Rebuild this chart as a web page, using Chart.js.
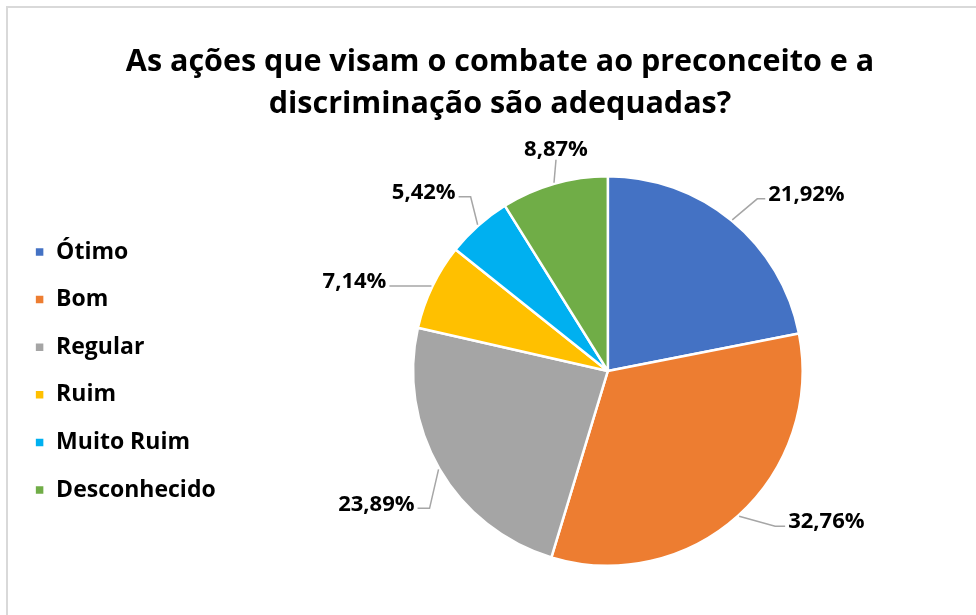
<!DOCTYPE html>
<html lang="pt-BR">
<head>
<meta charset="utf-8">
<title>Combate ao preconceito e à discriminação</title>
<script src="https://cdn.jsdelivr.net/npm/chart.js@4.4.1/dist/chart.umd.min.js"></script>
<style>
  html, body { margin: 0; padding: 0; background: #fff; overflow: hidden; }
  .frame {
    position: absolute;
    left: 6px;
    top: 6px;
    width: 990px;
    height: 620px;
    border-top: 2px solid #d9d9d9;
    border-left: 2px solid #d9d9d9;
  }
  canvas { display: block; }
</style>
</head>
<body>
<div class="frame">
  <canvas id="pie" width="988" height="607"></canvas>
</div>
<script>
const titleLines = ["As ações que visam o combate ao preconceito e a", "discriminação são adequadas?"];
const categories = ["Ótimo", "Bom", "Regular", "Ruim", "Muito Ruim", "Desconhecido"];
const percentages = [21.92, 32.76, 23.89, 7.14, 5.42, 8.87];
const sliceColors = ["#4472C4", "#ED7D31", "#A5A5A5", "#FFC000", "#00B0F0", "#70AD47"];

const FONT = '"Open Sans", "DejaVu Sans", sans-serif';

// percentage labels outside the pie; each leader runs from the slice edge
// to a bend (offset from the edge point) and then a short horizontal tail
const outsideLabels = {
  id: "outsideLabels",
  afterDatasetsDraw(chart, args, opts) {
    const ctx = chart.ctx;
    const meta = chart.getDatasetMeta(0);
    const values = chart.data.datasets[0].data;
    ctx.save();
    ctx.font = opts.font;
    ctx.fillStyle = opts.color;
    ctx.strokeStyle = opts.lineColor;
    ctx.lineWidth = 1.5;
    meta.data.forEach((arc, i) => {
      const p = arc.getProps(["x", "y", "startAngle", "endAngle", "outerRadius"], true);
      const mid = (p.startAngle + p.endAngle) / 2;
      const dx = Math.cos(mid), dy = Math.sin(mid);
      const text = values[i].toFixed(2).replace(".", ",") + "%";
      const lead = opts.leaders[i];
      const sx = p.x + dx * (p.outerRadius + 1);
      const sy = p.y + dy * (p.outerRadius + 1);
      const bx = sx + lead.dx;
      const by = sy + lead.dy;

      ctx.beginPath();
      ctx.moveTo(sx, sy);
      ctx.lineTo(bx, by);
      if (Math.abs(dx) < 0.35) {
        ctx.stroke();
        ctx.textAlign = "center";
        ctx.textBaseline = "bottom";
        ctx.fillText(text, bx, by + 1);
      } else {
        const side = dx > 0 ? 1 : -1;
        const tx = bx + side * lead.tail;
        ctx.lineTo(tx, by);
        ctx.stroke();
        ctx.textAlign = side > 0 ? "left" : "right";
        ctx.textBaseline = "middle";
        ctx.fillText(text, tx + side * 3, by - 4);
      }
    });
    ctx.restore();
  }
};

new Chart(document.getElementById("pie"), {
  type: "pie",
  data: {
    labels: categories,
    datasets: [{
      data: percentages,
      backgroundColor: sliceColors,
      borderColor: "#ffffff",
      borderWidth: 2.5
    }]
  },
  options: {
    responsive: false,
    animation: false,
    layout: { padding: { left: 2, right: 6, top: 0, bottom: 48 } },
    plugins: {
      title: {
        display: true,
        text: titleLines,
        color: "#000",
        font: { family: FONT, size: 30.5, weight: "bold", lineHeight: 1.36 },
        padding: { top: 34, bottom: 50 }
      },
      legend: {
        position: "left",
        fullSize: false,
        labels: {
          color: "#000",
          boxWidth: 10,
          boxHeight: 10,
          padding: 24.6,
          font: { family: FONT, size: 23, weight: "bold" }
        }
      },
      tooltip: { enabled: false },
      outsideLabels: {
        font: "bold 22px " + FONT,
        color: "#000",
        lineColor: "#a6a6a6",
        leaders: [
          { dx: 25, dy: -21, tail: 8 },
          { dx: 36, dy: 10, tail: 10 },
          { dx: -9, dy: 39, tail: 12 },
          { dx: -12, dy: 0, tail: 30 },
          { dx: -7, dy: -28, tail: 12 },
          { dx: 2, dy: -23, tail: 0 }
        ]
      }
    }
  },
  plugins: [outsideLabels]
});
</script>
</body>
</html>
